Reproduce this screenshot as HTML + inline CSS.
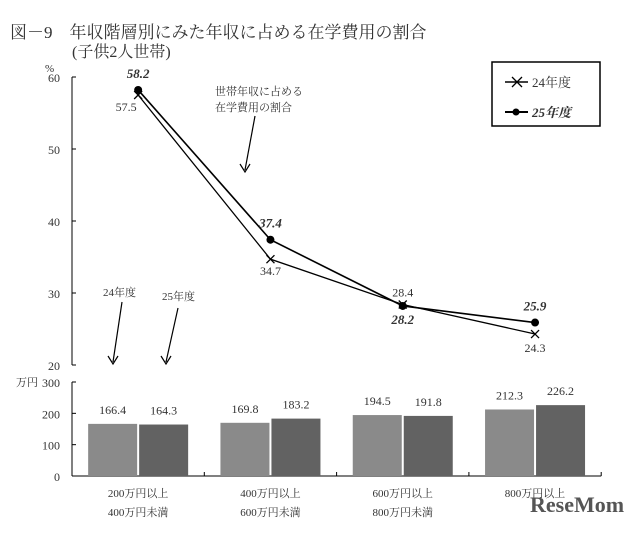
<!DOCTYPE html>
<html><head><meta charset="utf-8"><style>
body{margin:0;background:#fff;}
svg text{font-family:"Liberation Serif","Noto Serif CJK SC",serif;fill:#333;}
</style></head><body>
<svg width="640" height="529" viewBox="0 0 640 529">
<text x="10" y="38" font-size="17">図－9　年収階層別にみた年収に占める在学費用の割合</text>
<text x="72" y="57" font-size="16">(子供2人世帯)</text>
<g id="topG"></g>
<g id="botG"></g>
<g>
<rect x="492" y="62" width="108" height="64" fill="#fff" stroke="#000" stroke-width="1.5"/>
<line x1="505" y1="82" x2="528" y2="82" stroke="#000" stroke-width="1.5"/>
<path d="M512 77 L522 87 M512 87 L522 77" stroke="#000" stroke-width="1.3"/>
<text x="532" y="87" font-size="13">24年度</text>
<line x1="505" y1="112" x2="528" y2="112" stroke="#000" stroke-width="2"/>
<circle cx="516" cy="112" r="3.5" fill="#000"/>
<text x="532" y="117" font-size="13" font-weight="bold" font-style="italic" font-family="Liberation Sans, Noto Sans CJK SC, sans-serif">25年度</text>
</g>
<text x="215" y="95" font-size="11">世帯年収に占める</text>
<text x="215" y="111" font-size="11">在学費用の割合</text>
<line x1="255" y1="116" x2="245" y2="170" stroke="#000" stroke-width="1.2"/>
<path d="M240 164 L245 172 L250 164" fill="none" stroke="#000" stroke-width="1.2"/>
<text x="103" y="296" font-size="11">24年度</text>
<text x="162" y="300" font-size="11">25年度</text>
<line x1="122" y1="302" x2="113" y2="362" stroke="#000" stroke-width="1.2"/>
<path d="M108 356 L113 364 L118 356" fill="none" stroke="#000" stroke-width="1.2"/>
<line x1="178" y1="308" x2="166" y2="362" stroke="#000" stroke-width="1.2"/>
<path d="M161 356 L166 364 L171 356" fill="none" stroke="#000" stroke-width="1.2"/>
</svg>
<script>
const categories=["200万円以上|400万円未満","400万円以上|600万円未満","600万円以上|800万円未満","800万円以上|"];
const ratio24=[57.5,34.7,28.4,24.3];
const ratio25=[58.2,37.4,28.2,25.9];
const income24=[166.4,169.8,194.5,212.3];
const income25=[164.3,183.2,191.8,226.2];
const topTicks=[20,30,40,50,60];
const botTicks=[0,100,200,300];
const NS="http://www.w3.org/2000/svg";
function mk(p,t,a){const e=document.createElementNS(NS,t);for(const k in a)e.setAttribute(k,a[k]);p.appendChild(e);return e;}
const topG=document.getElementById('topG'),botG=document.getElementById('botG');
const X0=72,GW=132.3;
const cx=i=>X0+GW*(i+0.5);
const yT=v=>365-(v-20)*7.2;
const yB=v=>476-v*0.3133;
mk(topG,'line',{x1:X0,y1:yT(60),x2:X0,y2:yT(20),stroke:'#000'});
topTicks.forEach(t=>{mk(topG,'line',{x1:X0,y1:yT(t),x2:X0+4,y2:yT(t),stroke:'#000'});
const tx=mk(topG,'text',{x:X0-12,y:yT(t)+5,'font-size':12,'text-anchor':'end'});tx.textContent=t;

});
const pc=mk(topG,'text',{x:45,y:72,'font-size':11});pc.textContent='%';
let d24='',d25='';
ratio24.forEach((v,i)=>{d24+=(i?'L':'M')+cx(i)+' '+yT(v);});
ratio25.forEach((v,i)=>{d25+=(i?'L':'M')+cx(i)+' '+yT(v);});
const l24=mk(topG,'path',{d:d24,fill:'none',stroke:'#000','stroke-width':1.3});


const l25=mk(topG,'path',{d:d25,fill:'none',stroke:'#000','stroke-width':1.6});


const off24=[[-12,16],[0,16],[0,-8],[0,18]],off25=[[0,-12],[0,-12],[0,18],[0,-12]];
ratio24.forEach((v,i)=>{const x=cx(i),y=yT(v);
const m=mk(topG,'path',{d:`M${x-4} ${y-4}L${x+4} ${y+4}M${x-4} ${y+4}L${x+4} ${y-4}`,stroke:'#000','stroke-width':1.3});


const t=mk(topG,'text',{x:x+off24[i][0],y:y+off24[i][1],'font-size':12,'text-anchor':'middle'});t.textContent=v.toFixed(1);

});
ratio25.forEach((v,i)=>{const x=cx(i),y=yT(v);
const m=mk(topG,'circle',{cx:x,cy:y,r:4,fill:'#000'});


const t=mk(topG,'text',{x:x+off25[i][0],y:y+off25[i][1],'font-size':13,'text-anchor':'middle','font-weight':'bold','font-style':'italic','font-family':'Liberation Sans, sans-serif'});t.textContent=v.toFixed(1);

});
mk(botG,'line',{x1:X0,y1:yB(300),x2:X0,y2:yB(0),stroke:'#000'});
mk(botG,'line',{x1:X0,y1:yB(0),x2:X0+GW*4,y2:yB(0),stroke:'#000'});
for(let i=1;i<=4;i++)mk(botG,'line',{x1:X0+GW*i,y1:yB(0),x2:X0+GW*i,y2:yB(0)-4,stroke:'#000'});
botTicks.forEach(t=>{mk(botG,'line',{x1:X0,y1:yB(t),x2:X0+4,y2:yB(t),stroke:'#000'});
const tx=mk(botG,'text',{x:X0-12,y:yB(t)+5,'font-size':12,'text-anchor':'end'});tx.textContent=t;

});
const un=mk(botG,'text',{x:16,y:386,'font-size':11});un.textContent='万円';
const BW=49;
[[income24,'#8a8a8a',-BW-1,'bar-24'],[income25,'#626262',1,'bar-25']].forEach(([arr,col,o,nm])=>{
arr.forEach((v,i)=>{const x=cx(i)+o;
const r=mk(botG,'rect',{x:x,y:yB(v),width:BW,height:yB(0)-yB(v),fill:col});


const t=mk(botG,'text',{x:x+BW/2,y:yB(v)-10,'font-size':12,'text-anchor':'middle'});t.textContent=v.toFixed(1);

});});
categories.forEach((c,i)=>{const [a,b]=c.split('|');
const t1=mk(botG,'text',{x:cx(i),y:497,'font-size':11,'text-anchor':'middle'});t1.textContent=a;


const t2=mk(botG,'text',{x:cx(i),y:516,'font-size':11,'text-anchor':'middle'});t2.textContent=b;

});
const wm=mk(botG,'text',{x:530,y:512,'font-size':22,'font-weight':'bold','font-family':'Liberation Sans Narrow, Liberation Sans, sans-serif',style:'fill:#555'});wm.textContent='ReseMom';


</script>
</body></html>
